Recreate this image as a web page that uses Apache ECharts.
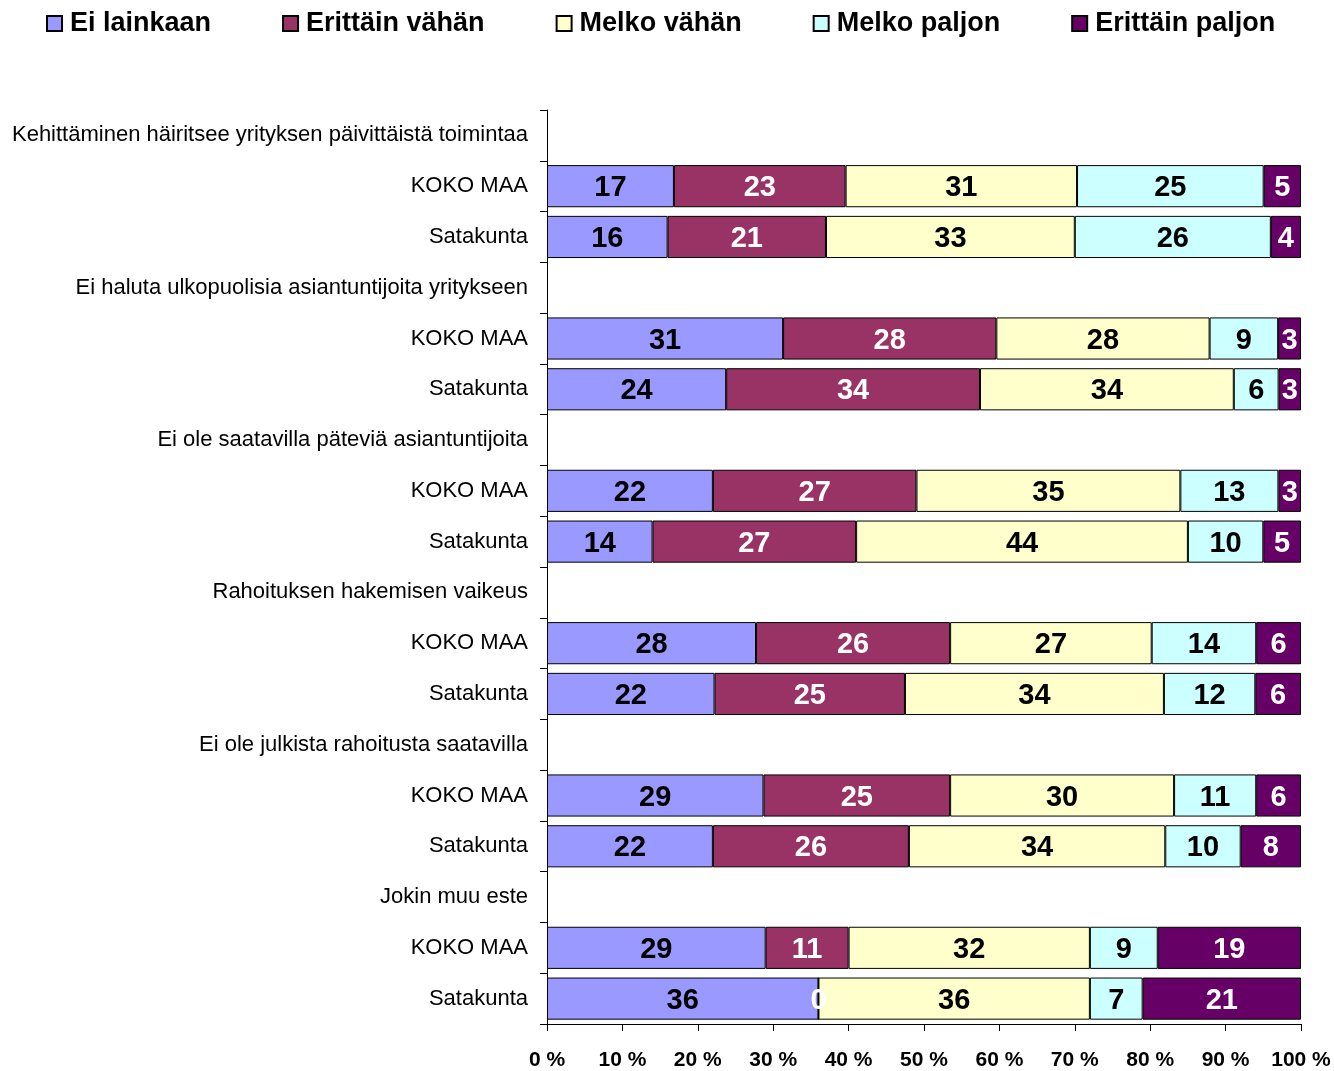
<!DOCTYPE html>
<html>
<head>
<meta charset="utf-8">
<script src="https://cdn.jsdelivr.net/npm/echarts@6/dist/echarts.min.js"></script>
<style>
  html, body { margin: 0; padding: 0; background: #fff; }
  #main { width: 1334px; height: 1071px; }
</style>
</head>
<body>
<div id="main"></div>
<script>
// rows from top to bottom; header rows carry no values
const categories = [
  'Kehittäminen häiritsee yrityksen päivittäistä toimintaa', 'KOKO MAA', 'Satakunta',
  'Ei haluta ulkopuolisia asiantuntijoita yritykseen', 'KOKO MAA', 'Satakunta',
  'Ei ole saatavilla päteviä asiantuntijoita', 'KOKO MAA', 'Satakunta',
  'Rahoituksen hakemisen vaikeus', 'KOKO MAA', 'Satakunta',
  'Ei ole julkista rahoitusta saatavilla', 'KOKO MAA', 'Satakunta',
  'Jokin muu este', 'KOKO MAA', 'Satakunta'
];
const seriesNames = ['Ei lainkaan', 'Erittäin vähän', 'Melko vähän', 'Melko paljon', 'Erittäin paljon'];
const colors = ['#9999FF', '#993366', '#FFFFCC', '#CCFFFF', '#660066'];
const labelColors = ['#000', '#fff', '#000', '#000', '#fff'];

const eiLainkaan     = [null, 17, 16, null, 31, 24, null, 22, 14, null, 28, 22, null, 29, 22, null, 29, 36];
const erittainVahan  = [null, 23, 21, null, 28, 34, null, 27, 27, null, 26, 25, null, 25, 26, null, 11, 0];
const melkoVahan     = [null, 31, 33, null, 28, 34, null, 35, 44, null, 27, 34, null, 30, 34, null, 32, 36];
const melkoPaljon    = [null, 25, 26, null, 9, 6, null, 13, 10, null, 14, 12, null, 11, 10, null, 9, 7];
const erittainPaljon = [null, 5, 4, null, 3, 3, null, 3, 5, null, 6, 6, null, 6, 8, null, 19, 21];

const xTicks = [0, 10, 20, 30, 40, 50, 60, 70, 80, 90, 100];

const raw = [eiLainkaan, erittainVahan, melkoVahan, melkoPaljon, erittainPaljon];
// bars are drawn as share of the row total (100 % stacked)
const totals = categories.map((c, i) => raw.reduce((s, arr) => s + (arr[i] || 0), 0));

const chart = echarts.init(document.getElementById('main'));

chart.setOption({
  animation: false,
  textStyle: { fontFamily: 'Liberation Sans, Arial, sans-serif' },
  legend: {
    top: 5,
    left: 41,
    itemGap: 71,
    itemWidth: 15,
    itemHeight: 15,
    icon: 'rect',
    textStyle: { fontSize: 27, fontWeight: 'bold', color: '#000', padding: [0, 0, 0, 3] },
    data: seriesNames
  },
  grid: { left: 547, right: 33, top: 110, bottom: 46, containLabel: false },
  xAxis: {
    type: 'value',
    min: xTicks[0],
    max: xTicks[xTicks.length - 1],
    interval: 10,
    splitLine: { show: false },
    axisLine: { show: true, lineStyle: { color: '#000', width: 1 } },
    axisTick: { show: true, length: 7, lineStyle: { color: '#000' } },
    axisLabel: {
      formatter: '{value} %',
      fontSize: 21,
      fontWeight: 'bold',
      color: '#000',
      margin: 26
    }
  },
  yAxis: {
    type: 'category',
    inverse: true,
    data: categories,
    axisLine: { show: true, lineStyle: { color: '#000', width: 1 } },
    axisTick: { show: true, length: 7, lineStyle: { color: '#000' } },
    axisLabel: { fontSize: 22, color: '#000', margin: 19, lineHeight: 26, padding: [4, 0, 0, 0] }
  },
  series: raw.map((arr, si) => ({
    name: seriesNames[si],
    type: 'bar',
    stack: 'total',
    barCategoryGap: '17%',
    itemStyle: { color: colors[si], borderColor: '#000', borderWidth: 1 },
    label: {
      show: true,
      position: 'inside',
      fontSize: 29,
      fontWeight: 'bold',
      color: labelColors[si],
      offset: [0, 2],
      formatter: p => (arr[p.dataIndex] == null ? '' : String(arr[p.dataIndex]))
    },
    data: arr.map((v, i) => (v == null ? null : v / totals[i] * 100))
  }))
});
</script>
</body>
</html>
